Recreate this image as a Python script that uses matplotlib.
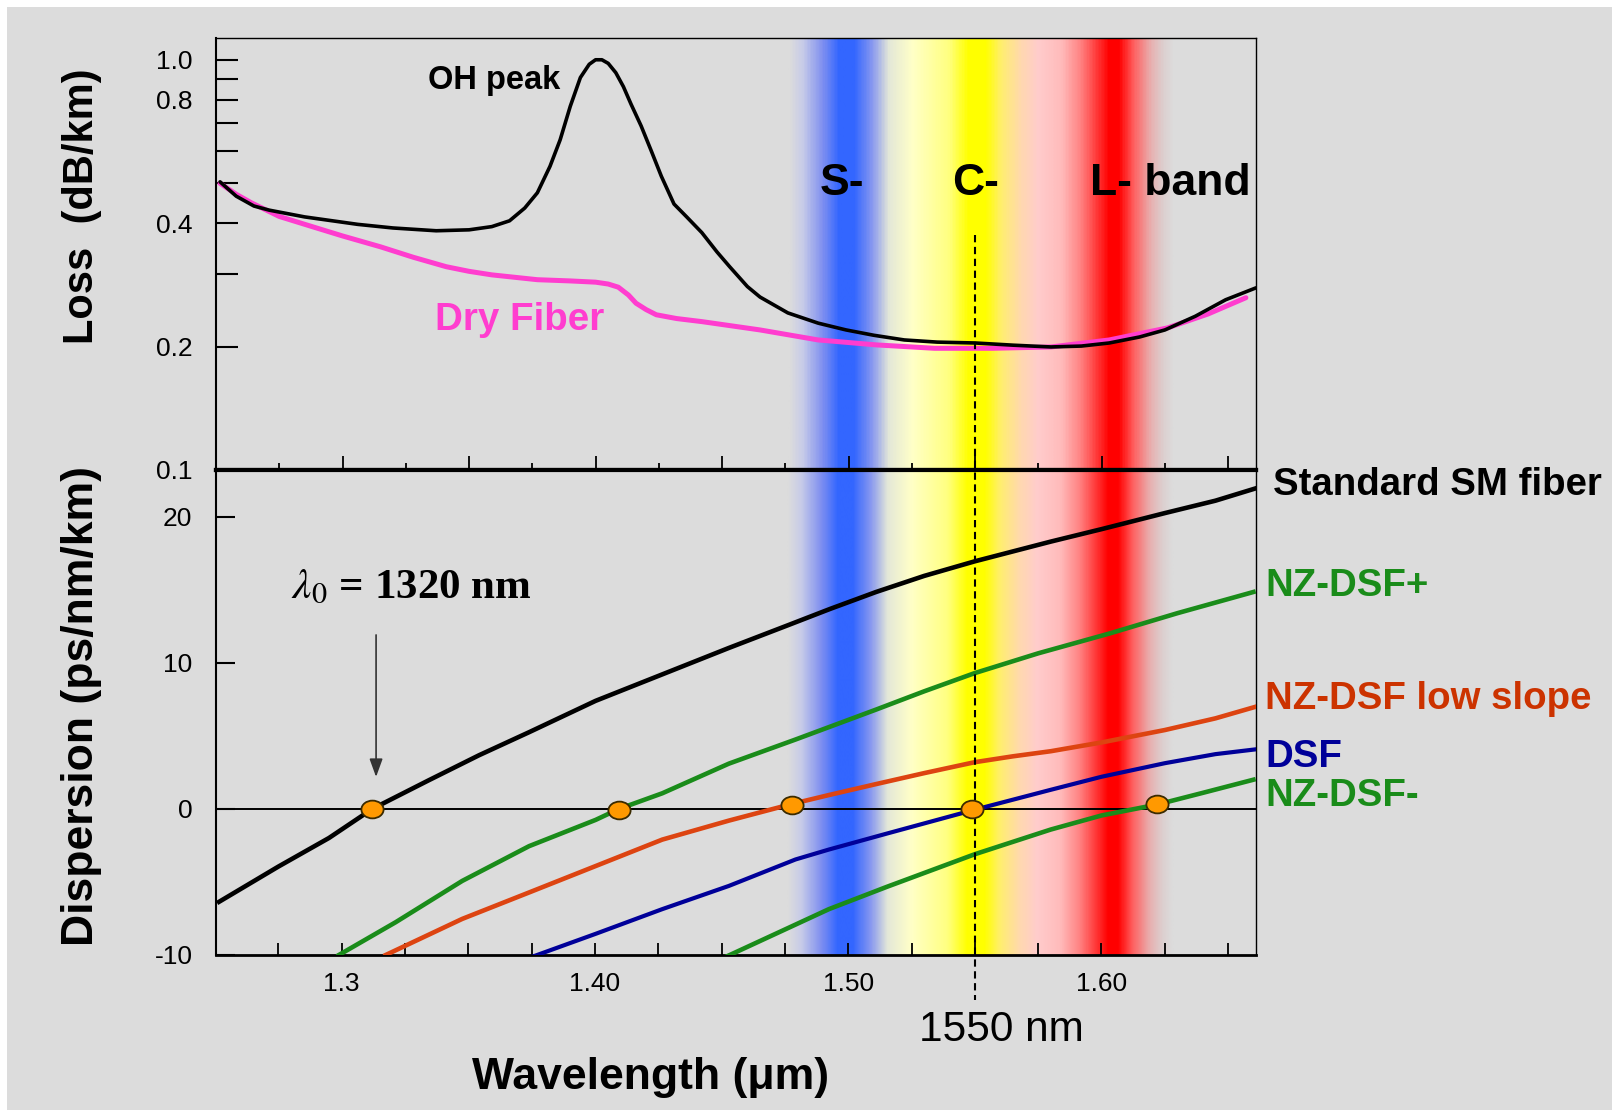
import numpy as np
import matplotlib
matplotlib.use("Agg")
import matplotlib.pyplot as plt
from matplotlib.colors import LinearSegmentedColormap
from matplotlib.patches import Rectangle
from matplotlib.path import Path
from matplotlib.transforms import Affine2D, blended_transform_factory

plt.rcParams['font.family'] = ['Liberation Sans', 'DejaVu Sans']
plt.rcParams['mathtext.fontset'] = 'stix'
plt.rcParams['axes.unicode_minus'] = False

# 損失スペクトル (μm, dB/km)
wet_wl = [1.2516, 1.258, 1.265, 1.271, 1.285, 1.306, 1.320, 1.337, 1.350, 1.359,
          1.366, 1.372, 1.377, 1.382, 1.386, 1.390, 1.394, 1.3975, 1.400, 1.4025,
          1.405, 1.408, 1.411, 1.414, 1.418, 1.422, 1.426, 1.431, 1.436, 1.442,
          1.448, 1.453, 1.460, 1.465, 1.476, 1.488, 1.499, 1.510, 1.522, 1.535,
          1.550, 1.565, 1.580, 1.592, 1.603, 1.615, 1.625, 1.637, 1.649, 1.661]
wet_loss = [0.504, 0.465, 0.44, 0.43, 0.414, 0.397, 0.389, 0.383, 0.385, 0.392,
            0.405, 0.435, 0.474, 0.55, 0.638, 0.77, 0.905, 0.975, 1.0, 1.0,
            0.98, 0.93, 0.86, 0.78, 0.69, 0.60, 0.52, 0.445, 0.414, 0.379,
            0.34, 0.313, 0.28, 0.264, 0.2415, 0.228, 0.2195, 0.213, 0.2075, 0.205,
            0.204, 0.2015, 0.1995, 0.2005, 0.204, 0.211, 0.2195, 0.237, 0.260, 0.278]

dry_wl = [1.2516, 1.258, 1.264, 1.275, 1.288, 1.300, 1.315, 1.328, 1.341, 1.350,
          1.359, 1.377, 1.390, 1.400, 1.405, 1.409, 1.413, 1.416, 1.420, 1.424,
          1.432, 1.442, 1.465, 1.488, 1.511, 1.534, 1.557, 1.580, 1.603, 1.626,
          1.642, 1.657]
dry_loss = [0.50, 0.47, 0.448, 0.415, 0.392, 0.372, 0.350, 0.330, 0.313, 0.305,
            0.299, 0.291, 0.289, 0.287, 0.284, 0.279, 0.267, 0.255, 0.246, 0.239,
            0.234, 0.230, 0.2195, 0.2075, 0.2018, 0.198, 0.198, 0.1995, 0.2075, 0.222,
            0.240, 0.263]

# 分散 (ps/nm/km)
smf_wl = [1.2516, 1.275, 1.295, 1.3121, 1.3345, 1.3542, 1.374, 1.4003, 1.4266, 1.4529,
          1.4766, 1.493, 1.511, 1.530, 1.550, 1.580, 1.600, 1.625, 1.645, 1.661]
smf_d = [-6.36, -3.95, -1.99, 0.0, 1.97, 3.67, 5.25, 7.40, 9.21, 11.02,
         12.6, 13.7, 14.85, 15.95, 16.95, 18.3, 19.15, 20.25, 21.1, 21.95]

nzp_wl = [1.2989, 1.3213, 1.3476, 1.374, 1.4003, 1.4095, 1.4266, 1.4529, 1.4792, 1.4924,
          1.511, 1.530, 1.550, 1.575, 1.603, 1.630, 1.660]
nzp_d = [-10, -7.76, -4.93, -2.55, -0.75, 0.0, 1.07, 3.1, 4.75, 5.6,
         6.8, 8.05, 9.3, 10.65, 12.0, 13.4, 14.85]

low_wl = [1.3174, 1.3476, 1.374, 1.4003, 1.4266, 1.4529, 1.478, 1.4924, 1.511, 1.530,
          1.550, 1.565, 1.580, 1.600, 1.625, 1.645, 1.661]
low_d = [-10, -7.53, -5.72, -3.91, -2.10, -0.8, 0.35, 0.95, 1.7, 2.45,
         3.2, 3.6, 3.95, 4.55, 5.4, 6.2, 7.0]

dsf_wl = [1.374, 1.4003, 1.4266, 1.4529, 1.4792, 1.4924, 1.515, 1.550, 1.580, 1.600,
          1.625, 1.645, 1.661]
dsf_d = [-10.2, -8.55, -6.86, -5.27, -3.46, -2.78, -1.7, -0.05, 1.31, 2.2,
         3.13, 3.75, 4.08]

nzm_wl = [1.452, 1.4727, 1.4924, 1.515, 1.550, 1.580, 1.600, 1.622, 1.640, 1.660]
nzm_d = [-10.1, -8.44, -6.86, -5.35, -3.1, -1.41, -0.45, 0.3, 1.1, 2.0]

zero_wl = [1.3121, 1.4095, 1.4780, 1.5490, 1.6220]
zero_d = [0.0, -0.1, 0.3, 0.0, 0.35]

# 帯域のグラデーション
band_wl = [1.4760, 1.4812, 1.4891, 1.4958, 1.5018, 1.5089, 1.5156, 1.5247, 1.5393,
           1.5470, 1.5540, 1.5603, 1.5682, 1.5749, 1.5840, 1.5919, 1.6030, 1.6070,
           1.6128, 1.6196, 1.6247, 1.6287]
band_colors = ['#dcdcdc', '#c8cce8', '#8090f0', '#3366ff', '#3366ff', '#8898f0', '#e4e8d8',
               '#ffffc8', '#ffff80', '#ffff00', '#ffff00', '#ffee70', '#ffd8b0', '#ffcccc',
               '#ffbbbb', '#ff8080', '#ff0000', '#ff0000', '#ff6060', '#e8b0b0', '#dcd0d0',
               '#dcdcdc']

xticks = [1.3, 1.4, 1.5, 1.6]
xticklabels = ['1.3', '1.40', '1.50', '1.60']
loss_ticks = [0.1, 0.2, 0.4, 0.8, 1.0]
loss_labels = ['0.1', '0.2', '0.4', '0.8', '1.0']
loss_minor = [0.3, 0.5, 0.6, 0.7, 0.9]
disp_ticks = [-10, 0, 10, 20]

GRAY = '#dcdcdc'
GREEN = '#1a8c1a'
ORANGE = '#dd4411'
BLUE = '#000099'
PINK = '#ff3dcf'
W, H = 1612, 1110
XL = (1.2504, 1.661)

fig = plt.figure(figsize=(W / 100, H / 100), dpi=100, facecolor='white')
fig.patches.append(Rectangle((7 / W, 0), 1, 1 - 7 / H, transform=fig.transFigure,
                             facecolor=GRAY, edgecolor='none', zorder=-10))

ax1 = fig.add_axes([216 / W, 1 - 470 / H, 1040 / W, 432 / H])
ax2 = fig.add_axes([216 / W, 1 - 955 / H, 1040 / W, 485 / H])

pos = [(w - band_wl[0]) / (band_wl[-1] - band_wl[0]) for w in band_wl]
cmap = LinearSegmentedColormap.from_list('bands', list(zip(pos, band_colors)))
grad = np.linspace(0, 1, 800).reshape(1, -1)

for ax in (ax1, ax2):
    ax.set_facecolor(GRAY)
    ax.imshow(grad, cmap=cmap, aspect='auto', transform=ax.get_xaxis_transform(),
              extent=[band_wl[0], band_wl[-1], 0, 1], zorder=0, interpolation='bilinear')
    ax.set_xlim(*XL)

# 上段: 損失
ax1.set_yscale('log')
ax1.plot(wet_wl, wet_loss, color='black', lw=2.6, zorder=3, solid_capstyle='round')
ax1.plot(dry_wl, dry_loss, color=PINK, lw=3.6, zorder=2, solid_capstyle='round')
ax1.set_ylim(0.1, 1.13)
ax1.set_yticks(loss_ticks)
ax1.set_yticklabels(loss_labels)
ax1.set_yticks(loss_minor, minor=True)
ax1.yaxis.set_minor_formatter(plt.NullFormatter())
ax1.set_xticks(np.arange(1.25, 1.67, 0.05))
ax1.set_xticks(np.arange(1.275, 1.67, 0.05), minor=True)
ax1.tick_params(axis='y', which='both', direction='in', length=16, width=1.5,
                labelsize=19, pad=17)
ax1.tick_params(axis='x', which='major', direction='in', length=10, width=1.3,
                labelbottom=False)
ax1.tick_params(axis='x', which='minor', direction='in', length=5, width=1.3)
for lab in ax1.get_yticklabels():
    lab.set_family(['Liberation Sans Narrow', 'Liberation Sans'])
ax1.spines['bottom'].set_linewidth(3)
ax1.spines['left'].set_linewidth(1.5)
ax1.spines['top'].set_linewidth(1.0)
ax1.spines['right'].set_linewidth(1.0)

ax1.text(1.3599, 0.89, 'OH peak', fontsize=23.5, fontweight='bold', ha='center', va='center')
ax1.text(1.3698, 0.232, 'Dry Fiber', fontsize=27.7, fontweight='bold', color=PINK,
         ha='center', va='center')
ax1.text(1.4975, 0.50, 'S-', fontsize=32, fontweight='bold', ha='center', va='center')
ax1.text(1.5500, 0.50, 'C-', fontsize=32, fontweight='bold', ha='center', va='center')
ax1.text(1.5955, 0.50, 'L- band', fontsize=32, fontweight='bold', ha='left', va='center')

# 下段: 分散
ax2.axhline(0, color='black', lw=1.4, zorder=2)
ax2.plot(smf_wl, smf_d, color='black', lw=3.3, zorder=3)
ax2.plot(nzp_wl, nzp_d, color=GREEN, lw=3.3, zorder=3)
ax2.plot(low_wl, low_d, color=ORANGE, lw=3.3, zorder=3)
ax2.plot(dsf_wl, dsf_d, color=BLUE, lw=3.0, zorder=3)
ax2.plot(nzm_wl, nzm_d, color=GREEN, lw=3.3, zorder=3)

ring = Path.unit_circle().transformed(Affine2D().scale(1.0, 0.8))
ax2.plot(zero_wl, zero_d, ls='none', marker=ring, markersize=16, markerfacecolor='#ff9900',
         markeredgecolor='#3a2a00', markeredgewidth=1.3, zorder=5)

ax2.set_ylim(-10, 23.2)
ax2.set_yticks(disp_ticks)
ax2.set_xticks(xticks)
ax2.set_xticklabels(xticklabels)
ax2.set_xticks(np.arange(1.275, 1.67, 0.025), minor=True)
ax2.tick_params(axis='y', which='both', direction='in', length=14, width=1.5,
                labelsize=19, pad=17)
ax2.tick_params(axis='x', which='both', direction='in', length=9, width=1.3,
                labelsize=19, pad=12)
for lab in ax2.get_yticklabels() + ax2.get_xticklabels():
    lab.set_family(['Liberation Sans Narrow', 'Liberation Sans'])
ax2.spines['top'].set_linewidth(3)
ax2.spines['left'].set_linewidth(1.5)
ax2.spines['bottom'].set_linewidth(2.0)
ax2.spines['right'].set_linewidth(1.0)

ax2.annotate('', xy=(1.3136, 2.0), xytext=(1.3136, 12.1),
             arrowprops=dict(arrowstyle='-|>,head_length=1.1,head_width=0.4',
                             color='#333333', lw=1.2))
ax2.text(1.2800, 14.45, r'$\lambda_0$ = 1320 nm', fontsize=31, fontweight='bold',
         family='Liberation Serif', ha='left', va='baseline')

lx = 1.2504 + (1264 - 216) / 2530
ax2.text(lx + 0.003, 22.2, 'Standard SM fiber', fontsize=27.6, fontweight='bold',
         ha='left', va='center', clip_on=False)
ax2.text(lx, 15.25, 'NZ-DSF+', fontsize=27.6, fontweight='bold', color=GREEN,
         ha='left', va='center', clip_on=False)
ax2.text(lx, 7.52, 'NZ-DSF low slope', fontsize=27.6, fontweight='bold', color='#cc3300',
         ha='left', va='center', clip_on=False)
ax2.text(lx, 3.55, 'DSF', fontsize=27.6, fontweight='bold', color=BLUE,
         ha='left', va='center', clip_on=False)
ax2.text(lx, 0.9, 'NZ-DSF-', fontsize=27.6, fontweight='bold', color=GREEN,
         ha='left', va='center', clip_on=False)

# 1550 nm の破線
tr = blended_transform_factory(ax2.transData, fig.transFigure)
ax2.plot([1.55, 1.55], [1 - 235 / H, 1 - 1000 / H], transform=tr, color='black',
         lw=1.5, dashes=[3.5, 2.2], clip_on=False, zorder=4)

fig.text(1001 / W, 1 - 1030 / H, '1550 nm', fontsize=30.5, ha='center', va='center')
fig.text(651 / W, 1 - 1077 / H, 'Wavelength (μm)', fontsize=32, fontweight='bold',
         ha='center', va='center')
fig.text(82 / W, 1 - 206 / H, 'Loss  (dB/km)', fontsize=30, fontweight='bold',
         rotation=90, ha='center', va='center')
fig.text(82 / W, 1 - 706 / H, 'Dispersion (ps/nm/km)', fontsize=32, fontweight='bold',
         rotation=90, ha='center', va='center')

fig.savefig('out.png', dpi=100, facecolor='white')
